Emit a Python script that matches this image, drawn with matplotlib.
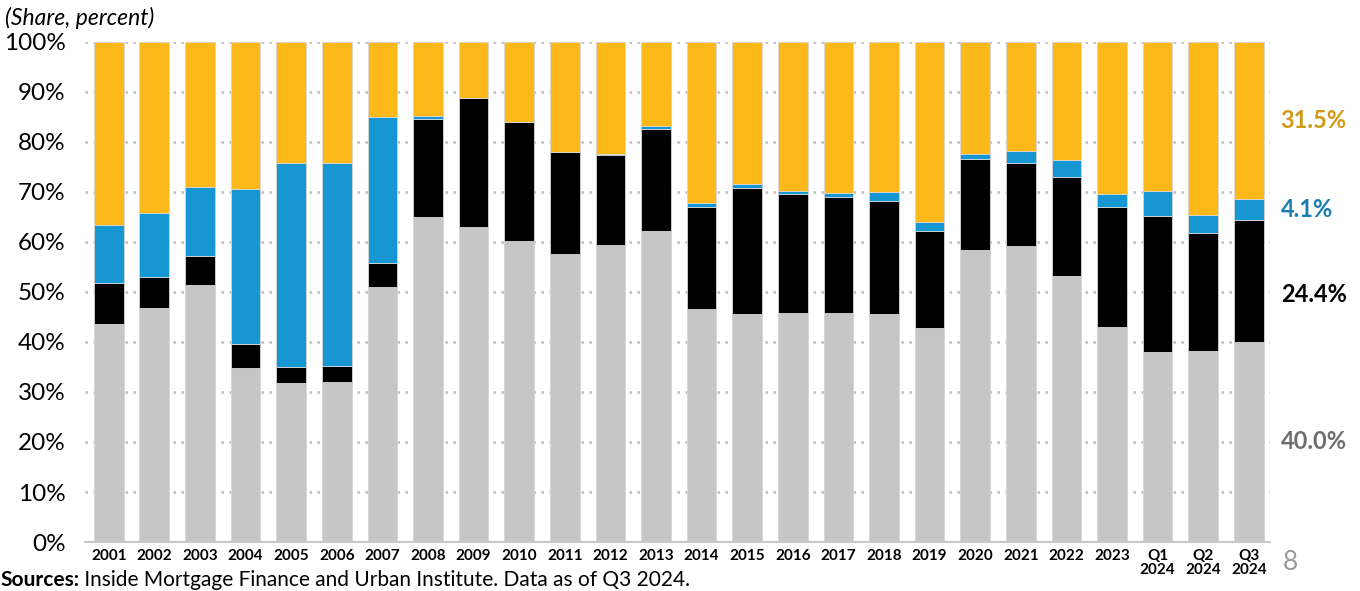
import matplotlib
matplotlib.use("Agg")
import matplotlib.pyplot as plt
import numpy as np

plt.rcParams['font.family'] = ['Lato', 'DejaVu Sans']

# category labels
periods = ['2001', '2002', '2003', '2004', '2005', '2006', '2007', '2008', '2009',
           '2010', '2011', '2012', '2013', '2014', '2015', '2016', '2017', '2018',
           '2019', '2020', '2021', '2022', '2023', 'Q1\n2024', 'Q2\n2024', 'Q3\n2024']

# shares, percent (bottom to top)
gse = [43.5, 46.7, 51.3, 34.7, 31.8, 31.9, 51.0, 64.9, 62.9, 60.2, 57.6, 59.3, 62.1,
       46.5, 45.6, 45.7, 45.7, 45.5, 42.8, 58.4, 59.2, 53.2, 43.0, 38.0, 38.1, 40.0]
fha_va = [8.2, 6.2, 5.8, 4.9, 3.1, 3.3, 4.7, 19.6, 25.8, 23.8, 20.4, 18.0, 20.4,
          20.5, 25.1, 23.8, 23.2, 22.6, 19.3, 18.1, 16.5, 19.8, 23.9, 27.1, 23.6, 24.4]
pls = [11.6, 12.8, 13.8, 31.0, 40.8, 40.5, 29.3, 0.7, 0.0, 0.0, 0.0, 0.2, 0.7,
       0.7, 0.8, 0.6, 0.8, 1.8, 1.9, 1.0, 2.5, 3.3, 2.6, 5.0, 3.7, 4.1]
portfolio = [36.7, 34.3, 29.1, 29.4, 24.3, 24.3, 15.0, 14.8, 11.3, 16.0, 22.0, 22.5, 16.8,
             32.3, 28.5, 29.9, 30.3, 30.1, 36.0, 22.5, 21.8, 23.7, 30.5, 29.9, 34.6, 31.5]

series = [gse, fha_va, pls, portfolio]
bar_colors = ['#c6c6c6', '#000000', '#1696d2', '#fdb91a']
label_colors = ['#6e6e6e', '#000000', '#1a7fb0', '#cf9b17']

fig = plt.figure(figsize=(13.6, 5.91), dpi=100)
ax = fig.add_axes([0.0625, 0.0829, 0.8715, 0.8461])

x = np.arange(len(periods))
bottom = np.zeros(len(periods))
for vals, col in zip(series, bar_colors):
    vals = np.array(vals)
    ax.bar(x, vals, 0.65, bottom=bottom, color=col, edgecolor='#d6d6d6',
           linewidth=0.6, zorder=3)
    bottom += vals

ax.set_xlim(-0.52, 25.47)
ax.set_ylim(0, 100)
ax.set_yticks(np.arange(0, 101, 10))
ax.set_yticklabels([f'{v}%' for v in range(0, 101, 10)], fontsize=17.5)
ax.set_xticks(x)
ax.set_xticklabels(periods, fontsize=11, fontweight='bold', linespacing=1.0)
ax.tick_params(axis='y', length=0, pad=14)
ax.tick_params(axis='x', length=0, pad=5)
ax.yaxis.grid(True, linestyle=(0, (1, 2.2)), color='#bdbdbd', linewidth=1.8, zorder=0)
for s in ['top', 'right', 'left']:
    ax.spines[s].set_visible(False)
ax.spines['bottom'].set_color('#c8c8c8')
ax.spines['bottom'].set_linewidth(1.5)
ax.spines['bottom'].set_zorder(4)

# end labels for last period
last = len(periods) - 1
cum = 0.0
for i, (vals, col) in enumerate(zip(series, label_colors)):
    v = vals[last]
    ymid = cum + v / 2
    if i == 1:
        ymid -= 2.8
    ax.text(last + 0.7, ymid, f'{v:.1f}%', color=col, fontsize=17,
            fontweight='bold', va='center', ha='left', clip_on=False)
    cum += v

fig.text(0.004, 0.969, '(Share, percent)', fontsize=16.5, style='italic', va='center', ha='left')
fig.text(0.949, 0.049, '8', fontsize=19, color='#9a9a9a', va='center', ha='center')

t1 = fig.text(0.0, 0.002, 'Sources:', fontsize=15, fontweight='bold', va='bottom', ha='left')
ax.annotate(' Inside Mortgage Finance and Urban Institute. Data as of Q3 2024.',
            xy=(1, 0), xycoords=t1, va='bottom', ha='left', fontsize=15,
            annotation_clip=False)

fig.savefig('out.png', dpi=100)
